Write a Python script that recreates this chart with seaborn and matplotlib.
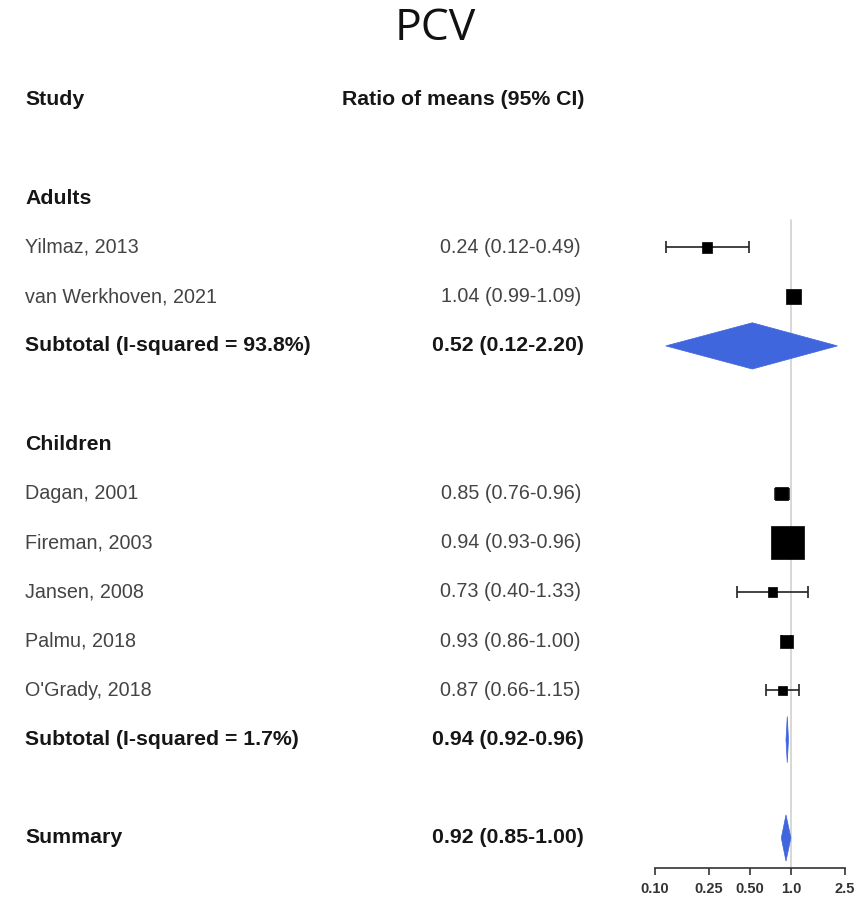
import numpy as np
import pandas as pd
import matplotlib
matplotlib.use("Agg")
import matplotlib.pyplot as plt
import seaborn as sns
from matplotlib.patches import Polygon
from matplotlib.transforms import blended_transform_factory

sns.set_style("white")
plt.rcParams["font.family"] = ["Liberation Sans", "DejaVu Sans"]

# Studies (row positions: header row = 0)
studies = ["Yilmaz, 2013", "van Werkhoven, 2021",
           "Dagan, 2001", "Fireman, 2003", "Jansen, 2008", "Palmu, 2018", "O'Grady, 2018"]
study_rows = [3, 4, 8, 9, 10, 11, 12]
est = [0.24, 1.04, 0.85, 0.94, 0.73, 0.93, 0.87]
lo = [0.12, 0.99, 0.76, 0.93, 0.40, 0.86, 0.66]
hi = [0.49, 1.09, 0.96, 0.96, 1.33, 1.00, 1.15]
box_size = [55, 110, 90, 560, 45, 85, 45]  # square marker areas (weights)

# Pooled estimates
pooled_labels = ["Subtotal (I-squared = 93.8%)", "Subtotal (I-squared = 1.7%)", "Summary"]
pooled_rows = [5, 13, 15]
pooled_est = [0.52, 0.94, 0.92]
pooled_lo = [0.12, 0.92, 0.85]
pooled_hi = [2.20, 0.96, 1.00]

groups = ["Adults", "Children"]
group_rows = [2, 7]

ticks = [0.10, 0.25, 0.50, 1.0, 2.5]
tick_labels = ["0.10", "0.25", "0.50", "1.0", "2.5"]

df = pd.DataFrame({"study": studies, "row": study_rows, "est": est,
                   "lo": lo, "hi": hi, "w": box_size})

fig = plt.figure(figsize=(8.61, 8.98), dpi=100)
W, H = 861, 898
y_top_px, y_bot_px = 60, 868
ax = fig.add_axes([655 / W, (H - y_bot_px) / H, 190 / W, (y_bot_px - y_top_px) / H])
ax.set_xscale("log")
ax.set_xlim(0.10, 2.5)
ax.set_ylim(15.61, -0.81)

# reference line at 1
ax.plot([1, 1], [2.45, 15.61], color="#d4d4d4", lw=1.3, zorder=0)

# confidence intervals
ax.errorbar(df["est"], df["row"], xerr=[df["est"] - df["lo"], df["hi"] - df["est"]],
            fmt="none", ecolor="#222222", elinewidth=1.2, capsize=4, capthick=1.2, zorder=2)
sns.scatterplot(data=df, x="est", y="row", size="w", sizes=(min(box_size), max(box_size)),
                marker="s", color="black", edgecolor="black", linewidth=0.5,
                legend=False, ax=ax, zorder=3)

# diamonds
for r, e, l, h in zip(pooled_rows, pooled_est, pooled_lo, pooled_hi):
    ax.add_patch(Polygon([[l, r], [e, r - 0.47], [h, r], [e, r + 0.47]],
                         closed=True, facecolor="#3f66dc", edgecolor="#3f66dc", lw=0.5, zorder=3))

ax.set_xticks(ticks)
ax.set_xticklabels(tick_labels)
ax.xaxis.set_minor_locator(matplotlib.ticker.NullLocator())
ax.tick_params(axis="x", direction="out", length=5, width=1.2, color="#333333",
               labelsize=10.5, pad=5, bottom=True)
for lab in ax.get_xticklabels():
    lab.set_fontweight("bold")
    lab.set_color("#333333")
ax.set_yticks([])
for s in ["top", "left", "right"]:
    ax.spines[s].set_visible(False)
ax.spines["bottom"].set_color("#333333")
ax.spines["bottom"].set_linewidth(1.2)
ax.set_xlabel("")
ax.set_ylabel("")
ax.patch.set_alpha(0)

# text columns
tr = blended_transform_factory(fig.transFigure, ax.transData)
x_left = 25 / W
x_right = 584 / W
fs = 14.2
fsb = 15.3
dark = "#161616"
grey = "#444444"
ax.text(x_left, 0, "Study", transform=tr, ha="left", va="center", fontsize=fsb,
        fontweight="bold", color=dark, clip_on=False)
ax.text(x_right, 0, "Ratio of means (95% CI)", transform=tr, ha="right", va="center",
        fontsize=fsb, fontweight="bold", color=dark, clip_on=False)
for g, r in zip(groups, group_rows):
    ax.text(x_left, r, g, transform=tr, ha="left", va="center", fontsize=fsb,
            fontweight="bold", color=dark, clip_on=False)
for s, r, e, l, h in zip(studies, study_rows, est, lo, hi):
    ax.text(x_left, r, s, transform=tr, ha="left", va="center", fontsize=fs,
            color=grey, clip_on=False)
    ax.text(x_right - 3 / W, r, f"{e:.2f} ({l:.2f}-{h:.2f})", transform=tr, ha="right",
            va="center", fontsize=fs, color=grey, clip_on=False)
for s, r, e, l, h in zip(pooled_labels, pooled_rows, pooled_est, pooled_lo, pooled_hi):
    ax.text(x_left, r, s, transform=tr, ha="left", va="center", fontsize=fsb,
            fontweight="bold", color=dark, clip_on=False)
    ax.text(x_right, r, f"{e:.2f} ({l:.2f}-{h:.2f})", transform=tr, ha="right",
            va="center", fontsize=fsb, fontweight="bold", color=dark, clip_on=False)

fig.text(435 / W, 1 - 29 / H, "PCV", ha="center", va="center", fontsize=32,
         family=["Open Sans", "DejaVu Sans"], color="#111111")

fig.savefig("out.png", dpi=100)
